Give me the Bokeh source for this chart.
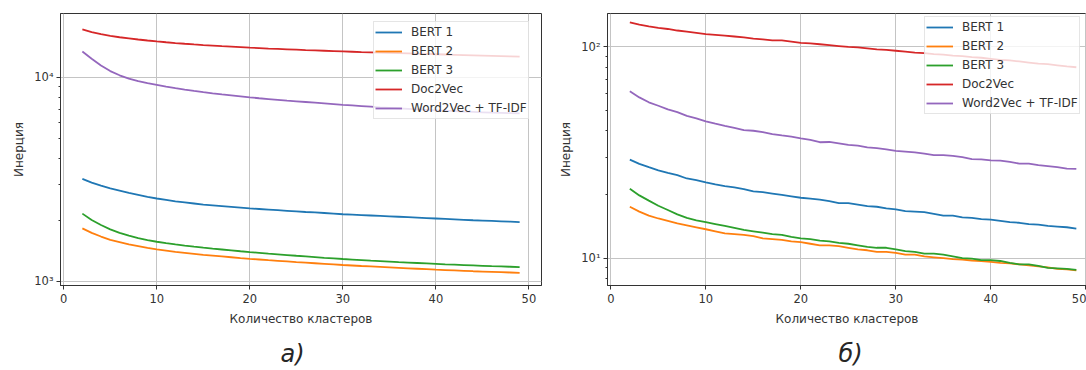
from bokeh.plotting import figure
from bokeh.models import Range1d, FixedTicker, Legend, LegendItem, Title
from bokeh.layouts import row
from bokeh.embed import file_html
from bokeh.resources import INLINE

# ---------------- data ----------------
k = list(range(2, 50))

a_bert1 = [3180, 3050, 2950, 2860, 2790, 2720, 2660, 2600, 2550, 2510, 2470, 2440, 2410, 2380,
           2360, 2340, 2320, 2300, 2280, 2265, 2250, 2235, 2220, 2205, 2190, 2180, 2165, 2150,
           2135, 2125, 2115, 2105, 2095, 2085, 2075, 2065, 2055, 2045, 2035, 2025, 2015, 2005,
           1995, 1988, 1980, 1972, 1964, 1955]
a_bert2 = [1820, 1730, 1660, 1600, 1560, 1520, 1490, 1460, 1435, 1415, 1395, 1380, 1365, 1350,
           1338, 1326, 1314, 1302, 1291, 1281, 1271, 1262, 1253, 1244, 1236, 1228, 1220, 1212,
           1204, 1197, 1190, 1184, 1178, 1172, 1166, 1160, 1154, 1148, 1142, 1137, 1132, 1127,
           1122, 1118, 1114, 1110, 1106, 1102]
a_bert3 = [2150, 2000, 1890, 1800, 1730, 1675, 1630, 1595, 1565, 1540, 1518, 1498, 1480, 1463,
           1448, 1434, 1420, 1406, 1393, 1381, 1369, 1358, 1347, 1336, 1326, 1316, 1306, 1297,
           1288, 1280, 1272, 1264, 1257, 1250, 1243, 1237, 1231, 1225, 1219, 1213, 1208, 1203,
           1198, 1193, 1188, 1184, 1180, 1176]
a_doc2vec = [17200, 16700, 16300, 16000, 15750, 15550, 15350, 15180, 15020, 14880, 14750, 14630,
             14520, 14420, 14330, 14240, 14160, 14080, 14000, 13930, 13860, 13800, 13740, 13680,
             13620, 13570, 13520, 13470, 13420, 13370, 13320, 13280, 13240, 13200, 13160, 13120,
             13080, 13040, 13000, 12960, 12920, 12880, 12840, 12800, 12760, 12720, 12680, 12640]
a_w2v = [13400, 12350, 11450, 10750, 10250, 9880, 9590, 9380, 9200, 9020, 8860, 8720, 8590, 8470,
         8360, 8260, 8170, 8080, 7990, 7910, 7840, 7770, 7700, 7640, 7580, 7520, 7460, 7400,
         7340, 7290, 7240, 7190, 7140, 7100, 7060, 7020, 6980, 6940, 6900, 6870, 6840, 6810,
         6780, 6750, 6720, 6700, 6680, 6660]

b_bert1 = [29.2, 27.9, 26.9, 26.0, 25.3, 24.7, 23.8, 23.4, 22.8, 22.3, 21.9, 21.6, 21.2, 20.7,
           20.5, 20.2, 19.9, 19.6, 19.3, 19.1, 18.9, 18.6, 18.2, 18.2, 17.9, 17.6, 17.5, 17.2,
           17.0, 16.7, 16.6, 16.5, 16.2, 15.9, 15.9, 15.6, 15.5, 15.3, 15.2, 15.0, 14.8, 14.7,
           14.5, 14.4, 14.2, 14.1, 14.0, 13.8]
b_bert2 = [17.5, 16.6, 15.9, 15.4, 15.0, 14.6, 14.3, 14.0, 13.7, 13.4, 13.1, 13.0, 12.9, 12.7,
           12.4, 12.3, 12.2, 12.0, 11.9, 11.7, 11.5, 11.5, 11.4, 11.2, 11.0, 10.9, 10.7, 10.7,
           10.6, 10.4, 10.4, 10.2, 10.1, 10.0, 9.9, 9.85, 9.75, 9.7, 9.6, 9.5, 9.45, 9.35,
           9.25, 9.15, 9.05, 8.9, 8.85, 8.75]
b_bert3 = [21.3, 19.8, 18.7, 17.7, 16.9, 16.1, 15.5, 15.1, 14.8, 14.5, 14.2, 13.9, 13.6, 13.4,
           13.2, 13.0, 12.9, 12.6, 12.4, 12.3, 12.1, 12.0, 11.8, 11.7, 11.5, 11.3, 11.2, 11.2,
           11.0, 10.8, 10.7, 10.5, 10.5, 10.4, 10.2, 10.0, 9.95, 9.8, 9.8, 9.7, 9.5, 9.35,
           9.35, 9.2, 9.0, 8.95, 8.9, 8.8]
b_doc2vec = [130, 127, 124.5, 122.5, 121, 119, 117.5, 116, 114.5, 113.5, 112.5, 111.5, 110.5, 109,
             108, 107, 107, 105.5, 104, 103.5, 102.5, 101.5, 100.5, 99.5, 99, 98, 97, 96.5,
             95.5, 94.5, 93.5, 93, 92, 91.5, 90.5, 90, 89, 88.5, 87.5, 86.5, 86, 85,
             84, 83, 82.5, 81.5, 80.5, 79.8]
b_w2v = [61.5, 57.5, 54.5, 52.5, 50.5, 49, 47, 45.8, 44.3, 43.2, 42.2, 41.3, 40.3, 40.0,
         39.4, 38.6, 38, 37.5, 36.8, 36.2, 35.3, 35.4, 34.9, 34.3, 34, 33.4, 33.1, 32.7,
         32.1, 31.9, 31.6, 31.2, 30.7, 30.7, 30.4, 30.0, 29.4, 29.3, 29.0, 28.9, 28.5, 28.0,
         28.0, 27.5, 27.2, 26.9, 26.5, 26.4]

names = ["BERT 1", "BERT 2", "BERT 3", "Doc2Vec", "Word2Vec + TF-IDF"]
colors = ["#1f77b4", "#ff7f0e", "#2ca02c", "#d62728", "#9467bd"]

x_ticks = [0, 10, 20, 30, 40, 50]
a_yticks = [1000, 10000]
a_ylabels = ["10³", "10⁴"]
a_yminor = [2000, 3000, 4000, 5000, 6000, 7000, 8000, 9000]
b_yticks = [10, 100]
b_ylabels = ["10¹", "10²"]
b_yminor = [8, 9, 20, 30, 40, 50, 60, 70, 80, 90]

x_label = "Количество кластеров"
y_label = "Инерция"
captions = ["а)", "б)"]

FONT = "DejaVu Sans"
DARK = "#333333"


def make(series, y0, y1, x1, yticks, ylabels, yminor, caption, cap_off,
         fw, fh, bl, bt, bb, br, legend_loc):
    p = figure(x_axis_type="linear", y_axis_type="log",
               x_range=Range1d(-0.35, x1), y_range=Range1d(y0, y1),
               frame_width=fw, frame_height=fh,
               min_border_left=bl, min_border_top=bt, min_border_bottom=bb,
               min_border_right=br, output_backend="svg", toolbar_location=None)
    p.background_fill_color = "white"
    p.border_fill_color = "white"
    p.outline_line_color = DARK
    p.outline_line_width = 1

    items = []
    for ys, n, c in zip(series, names, colors):
        r = p.line(k, ys, line_color=c, line_width=1.8)
        items.append(LegendItem(label=n, renderers=[r]))

    p.xaxis.ticker = FixedTicker(ticks=x_ticks)
    p.yaxis.ticker = FixedTicker(ticks=yticks, minor_ticks=yminor)
    p.yaxis.major_label_overrides = {t: l for t, l in zip(yticks, ylabels)}

    for ax in (p.xaxis[0], p.yaxis[0]):
        ax.axis_line_color = DARK
        ax.major_tick_line_color = DARK
        ax.minor_tick_line_color = DARK
        ax.major_tick_out = 4
        ax.major_tick_in = 0
        ax.minor_tick_out = 2
        ax.minor_tick_in = 0
        ax.major_label_text_font = FONT
        ax.major_label_text_font_size = "11.5px"
        ax.major_label_text_color = DARK
        ax.axis_label_text_font = FONT
        ax.axis_label_text_font_size = "12px"
        ax.axis_label_text_font_style = "normal"
        ax.axis_label_text_color = DARK
    p.xaxis.minor_tick_line_color = None
    p.xaxis.axis_label = x_label
    p.yaxis.axis_label = y_label
    p.xaxis.major_label_standoff = 4
    p.xaxis.axis_label_standoff = 6
    p.yaxis.major_label_standoff = 3
    p.yaxis.axis_label_standoff = 5

    p.xgrid.grid_line_color = "#c4c4c4"
    p.ygrid.grid_line_color = "#c4c4c4"
    p.xgrid.grid_line_width = 1
    p.ygrid.grid_line_width = 1

    leg = Legend(items=items, location=legend_loc,
                 label_text_font=FONT, label_text_font_size="12px",
                 label_text_color=DARK,
                 glyph_width=27, glyph_height=18, label_height=18,
                 label_standoff=9, spacing=1, padding=1, margin=0,
                 border_line_color="#cccccc", border_line_width=1,
                 background_fill_color="white", background_fill_alpha=0.8)
    p.add_layout(leg)

    t = Title(text=caption, align="left", offset=cap_off, text_font=FONT,
              text_font_size="24px", text_font_style="italic",
              text_color="#262626", standoff=19)
    p.add_layout(t, "below")
    return p


pa = make([a_bert1, a_bert2, a_bert3, a_doc2vec, a_w2v], 955, 20590, 51.35,
          a_yticks, a_ylabels, a_yminor, captions[0], 220,
          fw=481, fh=272, bl=60, bt=13, bb=83, br=10, legend_loc=(313, 166))
pb = make([b_bert1, b_bert2, b_bert3, b_doc2vec, b_w2v], 7.43, 143.2, 50.07,
          b_yticks, b_ylabels, b_yminor, captions[1], 231,
          fw=479, fh=272, bl=56, bt=13, bb=83, br=0, legend_loc=(317, 171))

layout = row(pa, pb)
open("out.html", "w").write(file_html(layout, INLINE))
